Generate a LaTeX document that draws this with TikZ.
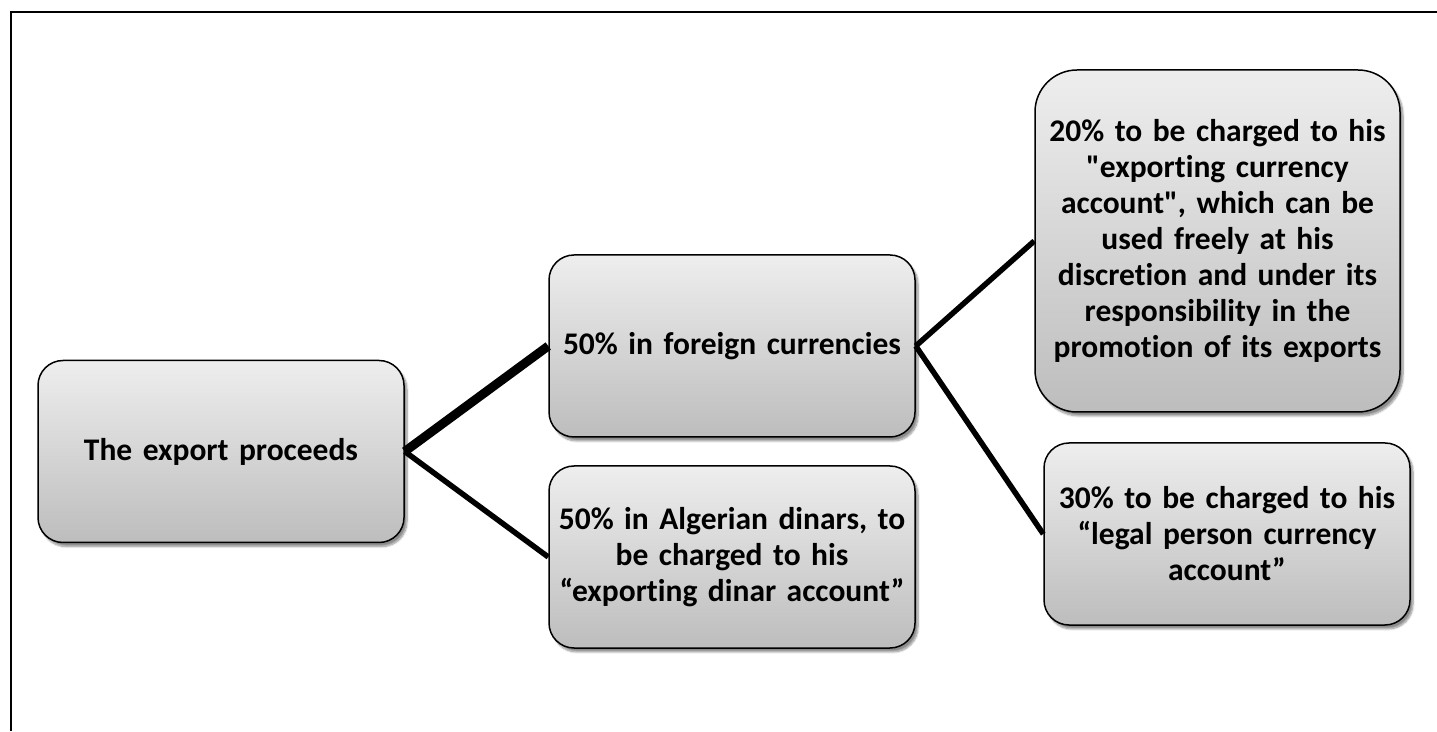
\documentclass[tikz,border=0pt]{standalone}
\usepackage{fontspec}
\setmainfont{Carlito}[Ligatures={TeX,NoCommon}]
\usetikzlibrary{shadows.blur}
\definecolor{boxtop}{HTML}{EEEEEE}
\definecolor{boxbot}{HTML}{BDBDBD}
\tikzset{
  card/.style={rectangle, draw=black, line width=1.5pt, rounded corners=25pt,
    top color=boxtop, bottom color=boxbot,
    blur shadow={shadow xshift=3pt, shadow yshift=-4pt, shadow blur steps=8, shadow opacity=45},
    minimum width=366pt, minimum height=182pt, text width=356pt, align=center,
    inner sep=0pt, font=\fontsize{31.5}{36}\selectfont\bfseries},
  link/.style={line width=5.5pt},
  mainlink/.style={line width=9pt}
}
\begin{document}
\begin{tikzpicture}[x=1pt,y=1pt]
\useasboundingbox (0,0) rectangle (1437,731);
% page frame
\draw[line width=2pt] (1437,719) -- (11,719) -- (11,0);
% boxes
\node[card] (src) at (221,279.5) {The export proceeds};
\node[card] (fx) at (732,385) {50\% in foreign currencies};
\node[card] (dz) at (732,174) {50\% in Algerian dinars, to\\be charged to his\\“exporting dinar account”};
\node[card, minimum height=342pt, minimum width=365pt, rounded corners=42pt] (exp) at (1217.5,490)
  {20\% to be charged to his\\\textquotedbl exporting currency\\account\textquotedbl, which can be\\used freely at his\\discretion and under its\\responsibility in the\\promotion of its exports};
\node[card] (lp) at (1227,197) {30\% to be charged to his\\“legal person currency\\account”};
% connectors
\draw[mainlink] (src.east) -- (fx.west);
\draw[link] (src.east) -- (dz.west);
\draw[link] (fx.east) -- (exp.west);
\draw[link] (fx.east) -- (lp.west);
\end{tikzpicture}
\end{document}
